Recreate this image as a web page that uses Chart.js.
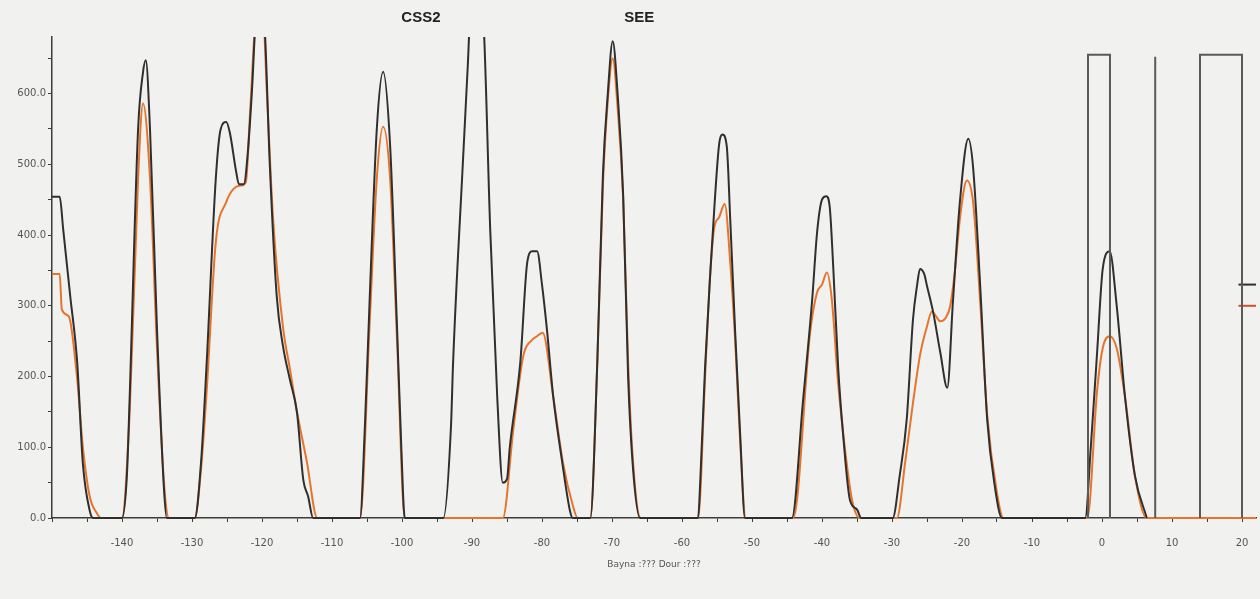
<!DOCTYPE html>
<html>
<head>
<meta charset="utf-8">
<script src="https://cdn.jsdelivr.net/npm/chart.js@4"></script>
<style>
  html, body { margin: 0; padding: 0; background: #f1f1ef; }
  #wrap { width: 1260px; height: 599px; }
</style>
</head>
<body>
<div id="wrap"><canvas id="traceChart"></canvas></div>
<script>
// dark trace (position, intensity)
const darkX = [
  -150.0, -148.9, -148.4, -147.4, -146.4, -145.6, -144.6, -144.1,
  -140.0, -139.3, -138.9, -137.7, -137.0, -136.6, -136.0, -135.0, -134.0, -133.6,
  -129.6, -128.7, -127.9, -126.6, -125.9, -125.1, -124.6, -123.7, -123.3, -122.6, -122.0, -121.4, -120.9, -120.0, -119.6, -118.9, -117.9, -117.0, -116.0, -115.0, -114.1, -113.4, -112.7,
  -106.0, -105.3, -104.6, -103.6, -102.7, -101.7, -100.7, -100.1, -99.6,
  -94.1, -93.0, -92.7, -91.3, -90.6, -90.0, -89.0, -88.3, -87.4, -86.4, -85.6,
  -85.0, -84.6, -83.1, -82.1, -81.4, -80.7, -80.0, -79.3, -78.4, -77.1, -76.0, -75.6,
  -73.1, -72.1, -71.3, -70.6, -69.9, -69.2, -68.4, -67.7, -67.0, -66.0,
  -57.7, -57.4, -56.7, -55.9, -55.3, -54.7, -54.2, -53.6, -53.1, -52.4, -51.7, -51.0,
  -44.3, -42.7, -41.4, -40.7, -40.0, -39.4, -38.9, -38.4, -37.7, -37.0, -36.0, -35.0, -34.4,
  -29.9, -28.9, -27.9, -27.0, -26.4, -26.0, -25.4, -25.0, -24.1, -23.1, -22.1, -21.3, -20.3, -19.1, -18.4, -17.4, -16.4, -15.3, -14.3,
  -2.4, -1.6, -0.7, 0.1, 1.1, 2.1, 3.3, 4.7, 6.4
];
const darkY = [
  454, 454, 408, 314, 220, 78, 10, 0,
  0, 60, 172, 550, 630, 647, 550, 267, 40, 0,
  0, 80, 220, 480, 550, 560, 545, 490, 472, 472, 520, 610, 700, 720, 690, 503, 314, 243, 195, 149, 54, 30, 0,
  0, 130, 314, 550, 631, 527, 267, 100, 0,
  0, 130, 220, 503, 640, 760, 760, 690, 408, 172, 50,
  55, 100, 220, 362, 377, 377, 330, 267, 172, 78, 10, 0,
  0, 220, 485, 600, 674, 600, 455, 200, 70, 0,
  0, 50, 214, 356, 451, 528, 542, 525, 420, 262, 120, 0,
  0, 167, 309, 404, 450, 455, 440, 356, 214, 120, 25, 12, 0,
  0, 60, 139, 281, 330, 352, 345, 328, 290, 234, 184, 305, 447, 536, 494, 328, 139, 44, 0,
  0, 100, 234, 352, 377, 300, 170, 60, 0
];

// orange trace
const orangeX = [
  -150.0, -148.9, -148.6, -147.6, -146.4, -145.6, -144.6, -143.6, -143.0,
  -140.0, -138.9, -137.7, -137.0, -136.0, -135.0, -134.0, -133.3,
  -129.6, -128.7, -127.9, -126.6, -125.1, -124.1, -123.0, -122.3, -121.7, -120.7, -119.9, -119.3, -118.4, -117.0, -116.0, -115.0, -113.6, -112.1,
  -106.0, -104.6, -103.6, -102.7, -101.7, -100.7, -99.6,
  -85.6, -84.1, -82.7, -81.4, -80.7, -79.9, -78.4, -77.0, -75.6, -74.9,
  -73.1, -72.1, -71.3, -70.6, -69.9, -69.2, -68.4, -67.7, -67.0, -65.9,
  -57.7, -56.7, -56.0, -55.4, -54.7, -53.9, -53.1, -52.4, -51.7, -50.9,
  -44.1, -41.7, -40.7, -40.0, -39.3, -38.6, -37.7, -36.7, -35.7, -34.6,
  -29.3, -28.1, -27.0, -26.0, -25.0, -24.3, -23.7, -23.1, -22.4, -21.7, -21.0, -20.3, -19.3, -18.4, -17.4, -16.4, -15.0, -14.1,
  -2.1, -0.7, 0.1, 1.1, 2.1, 3.3, 4.7, 6.4,
  22
];
const orangeY = [
  345, 345, 295, 285, 196, 101, 30, 7, 0,
  0, 150, 480, 586, 480, 240, 50, 0,
  0, 70, 180, 390, 447, 465, 470, 475, 574, 720, 720, 600, 420, 270, 210, 150, 80, 0,
  0, 280, 480, 553, 480, 250, 0,
  0, 125, 228, 252, 257, 262, 172, 78, 18, 0,
  0, 220, 470, 590, 650, 580, 450, 220, 80, 0,
  0, 200, 340, 410, 425, 444, 360, 250, 110, 0,
  0, 262, 319, 330, 347, 309, 191, 96, 25, 0,
  0, 80, 163, 230, 271, 292, 285, 278, 282, 299, 350, 423, 477, 445, 305, 145, 35, 0,
  0, 180, 240, 257, 240, 170, 60, 0,
  0
];

// gate pulses drawn as a stepped outline (null breaks the line)
const gateX = [-2.0, -2.0, 1.14, 1.14, null, 7.6, 7.6, null, 14.0, 14.0, 20.0, 20.0];
const gateY = [0, 655, 655, 0, null, 0, 652, null, 0, 655, 655, 0];

// level marks on the right edge
const markX = [19.5, 22];
const darkMark = 330;
const orangeMark = 300;

const noteLabels = ["CSS2", "SEE"];
const notePos = [-97.3, -66.1];
const axisCaption = "Bayna :??? Dour :???";

const toPoints = (xs, ys) => xs.map((x, i) => (x === null ? { x: NaN, y: null } : { x: x, y: ys[i] }));

const notesPlugin = {
  id: "notes",
  afterDraw(chart) {
    const ctx = chart.ctx;
    const xs = chart.scales.x;
    ctx.save();
    ctx.font = "bold 15px 'Liberation Sans', Arial, sans-serif";
    ctx.fillStyle = "#222";
    ctx.textAlign = "center";
    ctx.textBaseline = "middle";
    noteLabels.forEach((t, i) => {
      ctx.fillText(t, xs.getPixelForValue(notePos[i]), 18);
    });
    ctx.restore();
  },
};

// let the baseline show on top of the axis, keep the top clipped
const lineBase = {
  pointRadius: 0,
  borderWidth: 2,
  fill: false,
  cubicInterpolationMode: "monotone",
  spanGaps: false,
  clip: { left: 0, top: 0, right: 0, bottom: 3 },
};

new Chart(document.getElementById("traceChart"), {
  type: "line",
  data: {
    datasets: [
      {
        ...lineBase,
        label: "gate",
        data: toPoints(gateX, gateY),
        borderColor: "#5a5a5a",
        tension: 0,
        cubicInterpolationMode: "default",
      },
      { ...lineBase, label: "dark", data: toPoints(darkX, darkY), borderColor: "#2f2f2f" },
      { ...lineBase, label: "orange", data: toPoints(orangeX, orangeY), borderColor: "#e6742c" },
      {
        ...lineBase,
        label: "dark level",
        data: markX.map((x) => ({ x: x, y: darkMark })),
        borderColor: "#2f2f2f",
      },
      {
        ...lineBase,
        label: "orange level",
        data: markX.map((x) => ({ x: x, y: orangeMark })),
        borderColor: "#d4502a",
      },
    ],
  },
  options: {
    responsive: true,
    maintainAspectRatio: false,
    animation: false,
    layout: { padding: { top: 37, right: 4, left: 0, bottom: 0 } },
    plugins: { legend: { display: false }, tooltip: { enabled: false } },
    scales: {
      x: {
        type: "linear",
        min: -150,
        max: 22,
        afterFit: (scale) => {
          scale.height = 81;
          scale.paddingLeft = 0;
          scale.paddingRight = 0;
        },
        border: { color: "#3c3c3c", width: 1.5 },
        grid: { drawOnChartArea: false, tickLength: 4, color: "#3c3c3c" },
        ticks: {
          stepSize: 5,
          includeBounds: false,
          autoSkip: false,
          maxRotation: 0,
          padding: 15,
          color: "#555",
          font: { family: "'DejaVu Sans', sans-serif", size: 10 },
          callback: (v) => (v % 10 === 0 && v > -150 ? String(v) : ""),
        },
        title: {
          display: true,
          text: axisCaption,
          color: "#555",
          padding: { top: 6, bottom: 29 },
          font: { family: "'DejaVu Sans', sans-serif", size: 9 },
        },
      },
      y: {
        min: 0,
        max: 680,
        afterFit: (scale) => { scale.width = 52; },
        border: { color: "#3c3c3c", width: 1.5 },
        grid: { drawOnChartArea: false, tickLength: 4, color: "#3c3c3c" },
        ticks: {
          stepSize: 50,
          includeBounds: false,
          padding: 2,
          color: "#555",
          font: { family: "'DejaVu Sans', sans-serif", size: 10 },
          callback: (v) => (v % 100 === 0 ? v.toFixed(1) : ""),
        },
      },
    },
  },
  plugins: [notesPlugin],
});
</script>
</body>
</html>
